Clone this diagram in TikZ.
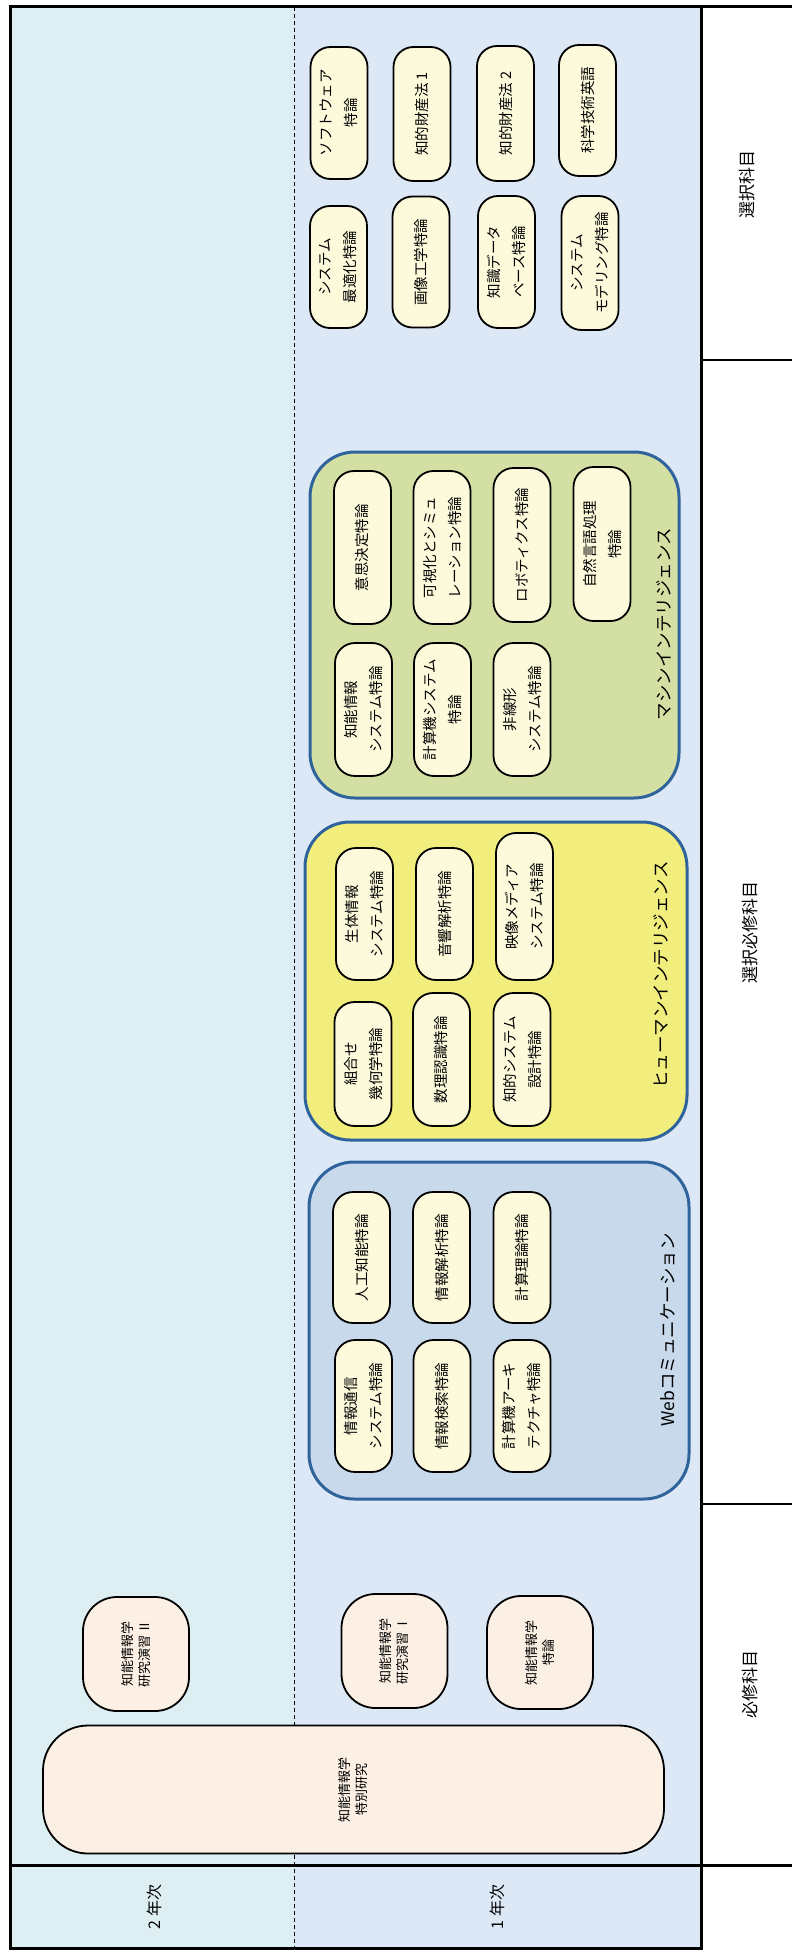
\documentclass[tikz,border=0pt]{standalone}
\usepackage{fontspec}
\setmainfont{Noto Sans CJK JP}
\definecolor{yeartwo}{HTML}{DDEFF3}
\definecolor{yearone}{HTML}{DCE8F6}
\definecolor{grpborder}{HTML}{2E639B}
\definecolor{mifill}{HTML}{D4E0A3}
\definecolor{hifill}{HTML}{F2EE7E}
\definecolor{webfill}{HTML}{C8D9EC}
\definecolor{ebfill}{HTML}{FDFADC}
\definecolor{rqfill}{HTML}{FCF0E4}
\begin{document}
\begin{tikzpicture}[x=1pt,y=-1pt,
  ebox/.style={draw=black, line width=1.8pt, fill=ebfill, rounded corners=20pt, rotate=90,
    minimum height=57pt, inner sep=0pt, align=center, font=\fontsize{14.5pt}{25pt}\selectfont},
  rbox/.style={draw=black, line width=1.8pt, fill=rqfill, rounded corners=34pt, rotate=90,
    minimum height=106pt, inner sep=0pt, align=center, font=\fontsize{13pt}{17pt}\selectfont},
  grp/.style={draw=grpborder, line width=3pt, rounded corners=45pt, inner sep=0pt},
  glabel/.style={rotate=90, font=\fontsize{17.5pt}{20pt}\selectfont},
  hlabel/.style={rotate=90, font=\fontsize{16pt}{18pt}\selectfont},
  frame/.style={line width=3pt, black},
  thinline/.style={line width=1.8pt, black}
]
\useasboundingbox (0,0) rectangle (792,1953);
% backgrounds
\fill[yeartwo] (10,7) rectangle (294,1948);
\fill[yearone] (294,7) rectangle (701,1948);
\fill[white] (701,7) rectangle (792,1953);
\draw[black, line width=0.9pt, dash pattern=on 4pt off 3pt] (294,7) -- (294,1948);

% area labels
\node[hlabel] (y2) at (154,1907) {2 年次};
\node[hlabel] (y1) at (497,1907) {1 年次};
\node[hlabel, font=\fontsize{17pt}{18pt}\selectfont] (sel) at (747,185) {選択科目};
\node[hlabel, font=\fontsize{17pt}{18pt}\selectfont] (selreq) at (750,932) {選択必修科目};
\node[hlabel, font=\fontsize{17pt}{18pt}\selectfont] (req) at (750,1684) {必修科目};

% electives
\node[ebox, minimum width=132pt] (e1) at (339,113) {ソフトウェア\\特論};
\node[ebox, minimum width=134pt] (e2) at (422,114) {知的財産法 1};
\node[ebox, minimum width=135pt] (e3) at (505.5,113.5) {知的財産法 2};
\node[ebox, minimum width=131pt] (e4) at (587.5,110.5) {科学技術英語};
\node[ebox, minimum width=122pt] (e5) at (338.5,267) {システム\\最適化特論};
\node[ebox, minimum width=131pt] (e6) at (421,262) {画像工学特論};
\node[ebox, minimum width=132pt] (e7) at (506.5,262) {知識データ\\ベース特論};
\node[ebox, minimum width=134pt] (e8) at (590,263) {システム\\モデリング特論};

% Machine intelligence
\node[grp, fill=mifill, minimum width=369pt, minimum height=346pt] (mi) at (494.5,625) {};
\node[glabel] (milab) at (664,624) {マシンインテリジェンス};
\node[ebox, minimum width=153pt] (m1) at (362.5,547.5) {意思決定特論};
\node[ebox, minimum width=153pt] (m2) at (442,547.5) {可視化とシミュ\\レーション特論};
\node[ebox, minimum width=154pt] (m3) at (522,545) {ロボティクス特論};
\node[ebox, minimum width=154pt] (m4) at (602,544) {自然言語処理\\特論};
\node[ebox, minimum width=133pt] (m5) at (363.5,709.5) {知能情報\\システム特論};
\node[ebox, minimum width=133pt] (m6) at (442.5,709.5) {計算機システム\\特論};
\node[ebox, minimum width=133pt] (m7) at (522,709.5) {非線形\\システム特論};

% Human intelligence
\node[grp, fill=hifill, minimum width=382pt, minimum height=318pt] (hi) at (496,981) {};
\node[glabel] (hilab) at (661,975) {ヒューマンインテリジェンス};
\node[ebox, minimum width=132pt] (h1) at (364.5,914) {生体情報\\システム特論};
\node[ebox, minimum width=132pt] (h2) at (444.5,914) {音響解析特論};
\node[ebox, minimum width=147pt] (h3) at (524.5,906.5) {映像メディア\\システム特論};
\node[ebox, minimum width=124pt] (h4) at (363,1064) {組合せ\\幾何学特論};
\node[ebox, minimum width=133pt] (h5) at (441.5,1059.5) {数理認識特論};
\node[ebox, minimum width=133pt] (h6) at (522,1059.5) {知的システム\\設計特論};

% Web communication
\node[grp, fill=webfill, minimum width=380pt, minimum height=337pt] (web) at (499,1330.5) {};
\node[glabel] (weblab) at (668,1330) {Webコミュニケーション};
\node[ebox, minimum width=131pt] (w1) at (361.5,1257.5) {人工知能特論};
\node[ebox, minimum width=131pt] (w2) at (441.5,1257.5) {情報解析特論};
\node[ebox, minimum width=131pt] (w3) at (522,1257.5) {計算理論特論};
\node[ebox, minimum width=132pt] (w4) at (363.5,1406) {情報通信\\システム特論};
\node[ebox, minimum width=132pt] (w5) at (442,1406) {情報検索特論};
\node[ebox, minimum width=132pt] (w6) at (522,1406) {計算機アーキ\\テクチャ特論};

% required
\node[rbox, minimum width=114pt] (r2) at (136,1654) {知能情報学\\研究演習 Ⅱ};
\node[rbox, minimum width=114pt] (r1) at (394.5,1651) {知能情報学\\研究演習 Ⅰ};
\node[rbox, minimum width=113pt] (rt) at (540,1652.5) {知能情報学\\特論};
\node[rbox, rounded corners=45pt, minimum width=128pt, minimum height=621pt] (rs) at (353.5,1789.5) {知能情報学\\特別研究};

% frame lines
\draw[frame] (10,7) rectangle (701,1948);
\draw[frame] (701,7) -- (792,7);
\draw[frame] (10,1865) -- (792,1865);
\draw[thinline] (701,360) -- (792,360);
\draw[thinline] (701,1504) -- (792,1504);
\end{tikzpicture}
\end{document}
